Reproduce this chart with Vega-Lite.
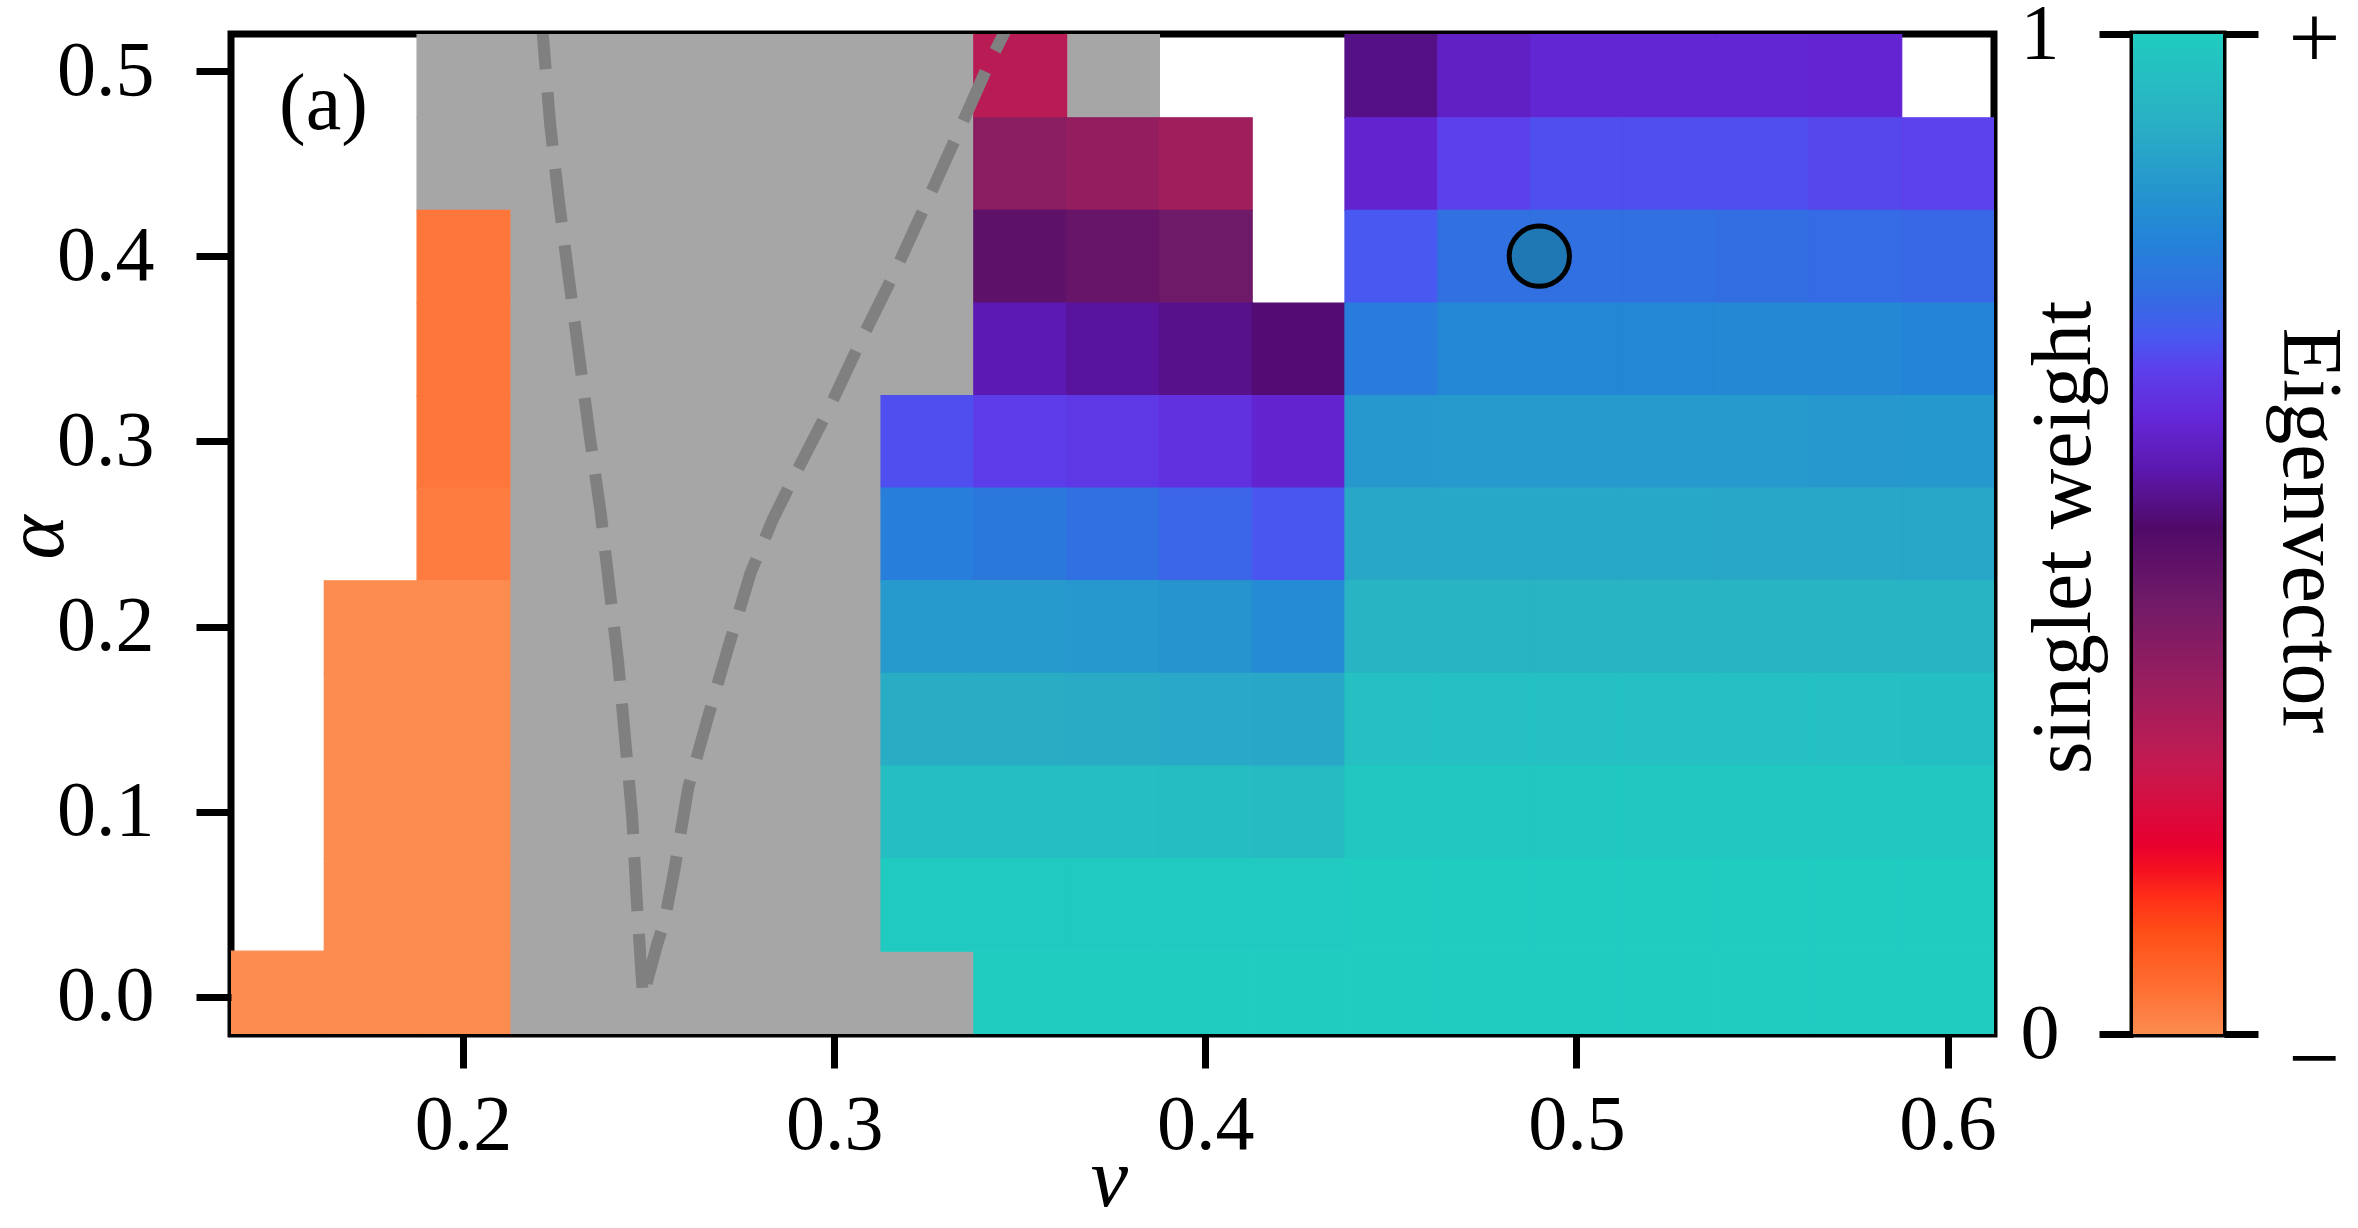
{
  "$schema": "https://vega.github.io/schema/vega-lite/v6.json",
  "background": "white",
  "padding": {"left": -9, "top": -11, "right": 0, "bottom": 0},
  "config": {
    "view": {"stroke": "black", "strokeWidth": 7},
    "font": "Liberation Serif",
    "axis": {
      "grid": false,
      "domain": false,
      "tickColor": "black",
      "tickWidth": 7,
      "labelFont": "Liberation Serif",
      "labelFontSize": 78,
      "labelColor": "black",
      "labelFlush": false,
      "labelOverlap": false,
      "titleFont": "Liberation Serif",
      "titleFontWeight": "normal",
      "titleColor": "black"
    }
  },
  "datasets": {
    "cells": [
      {"nu": 0.35, "alpha": 0.5, "w": 0.29},
      {"nu": 0.45, "alpha": 0.5, "w": 0.53},
      {"nu": 0.475, "alpha": 0.5, "w": 0.59},
      {"nu": 0.5, "alpha": 0.5, "w": 0.61},
      {"nu": 0.525, "alpha": 0.5, "w": 0.61},
      {"nu": 0.55, "alpha": 0.5, "w": 0.61},
      {"nu": 0.575, "alpha": 0.5, "w": 0.607},
      {"nu": 0.35, "alpha": 0.45, "w": 0.38},
      {"nu": 0.375, "alpha": 0.45, "w": 0.36},
      {"nu": 0.4, "alpha": 0.45, "w": 0.335},
      {"nu": 0.45, "alpha": 0.45, "w": 0.605},
      {"nu": 0.475, "alpha": 0.45, "w": 0.665},
      {"nu": 0.5, "alpha": 0.45, "w": 0.685},
      {"nu": 0.525, "alpha": 0.45, "w": 0.685},
      {"nu": 0.55, "alpha": 0.45, "w": 0.685},
      {"nu": 0.575, "alpha": 0.45, "w": 0.675},
      {"nu": 0.6, "alpha": 0.45, "w": 0.668},
      {"nu": 0.2, "alpha": 0.4, "w": 0.035},
      {"nu": 0.35, "alpha": 0.4, "w": 0.475},
      {"nu": 0.375, "alpha": 0.4, "w": 0.455},
      {"nu": 0.4, "alpha": 0.4, "w": 0.435},
      {"nu": 0.45, "alpha": 0.4, "w": 0.696},
      {"nu": 0.475, "alpha": 0.4, "w": 0.745},
      {"nu": 0.5, "alpha": 0.4, "w": 0.745},
      {"nu": 0.525, "alpha": 0.4, "w": 0.745},
      {"nu": 0.55, "alpha": 0.4, "w": 0.742},
      {"nu": 0.575, "alpha": 0.4, "w": 0.735},
      {"nu": 0.6, "alpha": 0.4, "w": 0.73},
      {"nu": 0.2, "alpha": 0.35, "w": 0.035},
      {"nu": 0.35, "alpha": 0.35, "w": 0.57},
      {"nu": 0.375, "alpha": 0.35, "w": 0.55},
      {"nu": 0.4, "alpha": 0.35, "w": 0.535},
      {"nu": 0.425, "alpha": 0.35, "w": 0.515},
      {"nu": 0.45, "alpha": 0.35, "w": 0.775},
      {"nu": 0.475, "alpha": 0.35, "w": 0.805},
      {"nu": 0.5, "alpha": 0.35, "w": 0.805},
      {"nu": 0.525, "alpha": 0.35, "w": 0.805},
      {"nu": 0.55, "alpha": 0.35, "w": 0.807},
      {"nu": 0.575, "alpha": 0.35, "w": 0.807},
      {"nu": 0.6, "alpha": 0.35, "w": 0.8},
      {"nu": 0.2, "alpha": 0.3, "w": 0.035},
      {"nu": 0.325, "alpha": 0.3, "w": 0.685},
      {"nu": 0.35, "alpha": 0.3, "w": 0.66},
      {"nu": 0.375, "alpha": 0.3, "w": 0.65},
      {"nu": 0.4, "alpha": 0.3, "w": 0.635},
      {"nu": 0.425, "alpha": 0.3, "w": 0.605},
      {"nu": 0.45, "alpha": 0.3, "w": 0.852},
      {"nu": 0.475, "alpha": 0.3, "w": 0.855},
      {"nu": 0.5, "alpha": 0.3, "w": 0.855},
      {"nu": 0.525, "alpha": 0.3, "w": 0.855},
      {"nu": 0.55, "alpha": 0.3, "w": 0.853},
      {"nu": 0.575, "alpha": 0.3, "w": 0.852},
      {"nu": 0.6, "alpha": 0.3, "w": 0.85},
      {"nu": 0.2, "alpha": 0.25, "w": 0.025},
      {"nu": 0.325, "alpha": 0.25, "w": 0.78},
      {"nu": 0.35, "alpha": 0.25, "w": 0.765},
      {"nu": 0.375, "alpha": 0.25, "w": 0.745},
      {"nu": 0.4, "alpha": 0.25, "w": 0.725},
      {"nu": 0.425, "alpha": 0.25, "w": 0.695},
      {"nu": 0.45, "alpha": 0.25, "w": 0.89},
      {"nu": 0.475, "alpha": 0.25, "w": 0.892},
      {"nu": 0.5, "alpha": 0.25, "w": 0.892},
      {"nu": 0.525, "alpha": 0.25, "w": 0.892},
      {"nu": 0.55, "alpha": 0.25, "w": 0.89},
      {"nu": 0.575, "alpha": 0.25, "w": 0.89},
      {"nu": 0.6, "alpha": 0.25, "w": 0.888},
      {"nu": 0.175, "alpha": 0.2, "w": 0.0},
      {"nu": 0.2, "alpha": 0.2, "w": 0.0},
      {"nu": 0.325, "alpha": 0.2, "w": 0.855},
      {"nu": 0.35, "alpha": 0.2, "w": 0.855},
      {"nu": 0.375, "alpha": 0.2, "w": 0.852},
      {"nu": 0.4, "alpha": 0.2, "w": 0.84},
      {"nu": 0.425, "alpha": 0.2, "w": 0.815},
      {"nu": 0.45, "alpha": 0.2, "w": 0.925},
      {"nu": 0.475, "alpha": 0.2, "w": 0.926},
      {"nu": 0.5, "alpha": 0.2, "w": 0.926},
      {"nu": 0.525, "alpha": 0.2, "w": 0.926},
      {"nu": 0.55, "alpha": 0.2, "w": 0.925},
      {"nu": 0.575, "alpha": 0.2, "w": 0.925},
      {"nu": 0.6, "alpha": 0.2, "w": 0.924},
      {"nu": 0.175, "alpha": 0.15, "w": 0.0},
      {"nu": 0.2, "alpha": 0.15, "w": 0.0},
      {"nu": 0.325, "alpha": 0.15, "w": 0.905},
      {"nu": 0.35, "alpha": 0.15, "w": 0.905},
      {"nu": 0.375, "alpha": 0.15, "w": 0.9},
      {"nu": 0.4, "alpha": 0.15, "w": 0.895},
      {"nu": 0.425, "alpha": 0.15, "w": 0.89},
      {"nu": 0.45, "alpha": 0.15, "w": 0.962},
      {"nu": 0.475, "alpha": 0.15, "w": 0.963},
      {"nu": 0.5, "alpha": 0.15, "w": 0.963},
      {"nu": 0.525, "alpha": 0.15, "w": 0.963},
      {"nu": 0.55, "alpha": 0.15, "w": 0.962},
      {"nu": 0.575, "alpha": 0.15, "w": 0.962},
      {"nu": 0.6, "alpha": 0.15, "w": 0.961},
      {"nu": 0.175, "alpha": 0.1, "w": 0.0},
      {"nu": 0.2, "alpha": 0.1, "w": 0.0},
      {"nu": 0.325, "alpha": 0.1, "w": 0.956},
      {"nu": 0.35, "alpha": 0.1, "w": 0.956},
      {"nu": 0.375, "alpha": 0.1, "w": 0.955},
      {"nu": 0.4, "alpha": 0.1, "w": 0.953},
      {"nu": 0.425, "alpha": 0.1, "w": 0.945},
      {"nu": 0.45, "alpha": 0.1, "w": 0.988},
      {"nu": 0.475, "alpha": 0.1, "w": 0.988},
      {"nu": 0.5, "alpha": 0.1, "w": 0.988},
      {"nu": 0.525, "alpha": 0.1, "w": 0.988},
      {"nu": 0.55, "alpha": 0.1, "w": 0.988},
      {"nu": 0.575, "alpha": 0.1, "w": 0.988},
      {"nu": 0.6, "alpha": 0.1, "w": 0.987},
      {"nu": 0.175, "alpha": 0.05, "w": 0.0},
      {"nu": 0.2, "alpha": 0.05, "w": 0.0},
      {"nu": 0.325, "alpha": 0.05, "w": 0.994},
      {"nu": 0.35, "alpha": 0.05, "w": 0.994},
      {"nu": 0.375, "alpha": 0.05, "w": 0.994},
      {"nu": 0.4, "alpha": 0.05, "w": 0.994},
      {"nu": 0.425, "alpha": 0.05, "w": 0.993},
      {"nu": 0.45, "alpha": 0.05, "w": 0.997},
      {"nu": 0.475, "alpha": 0.05, "w": 0.997},
      {"nu": 0.5, "alpha": 0.05, "w": 0.997},
      {"nu": 0.525, "alpha": 0.05, "w": 0.997},
      {"nu": 0.55, "alpha": 0.05, "w": 0.997},
      {"nu": 0.575, "alpha": 0.05, "w": 0.997},
      {"nu": 0.6, "alpha": 0.05, "w": 0.997},
      {"nu": 0.15, "alpha": 0.0, "w": 0.0},
      {"nu": 0.175, "alpha": 0.0, "w": 0.0},
      {"nu": 0.2, "alpha": 0.0, "w": 0.0},
      {"nu": 0.35, "alpha": 0.0, "w": 1.0},
      {"nu": 0.375, "alpha": 0.0, "w": 1.0},
      {"nu": 0.4, "alpha": 0.0, "w": 1.0},
      {"nu": 0.425, "alpha": 0.0, "w": 1.0},
      {"nu": 0.45, "alpha": 0.0, "w": 1.0},
      {"nu": 0.475, "alpha": 0.0, "w": 1.0},
      {"nu": 0.5, "alpha": 0.0, "w": 1.0},
      {"nu": 0.525, "alpha": 0.0, "w": 1.0},
      {"nu": 0.55, "alpha": 0.0, "w": 1.0},
      {"nu": 0.575, "alpha": 0.0, "w": 1.0},
      {"nu": 0.6, "alpha": 0.0, "w": 1.0}
    ],
    "gray": [
      {"nu": 0.2, "alpha": 0.5}, {"nu": 0.225, "alpha": 0.5}, {"nu": 0.25, "alpha": 0.5}, {"nu": 0.275, "alpha": 0.5}, {"nu": 0.3, "alpha": 0.5}, {"nu": 0.325, "alpha": 0.5}, {"nu": 0.375, "alpha": 0.5},
      {"nu": 0.2, "alpha": 0.45}, {"nu": 0.225, "alpha": 0.45}, {"nu": 0.25, "alpha": 0.45}, {"nu": 0.275, "alpha": 0.45}, {"nu": 0.3, "alpha": 0.45}, {"nu": 0.325, "alpha": 0.45},
      {"nu": 0.225, "alpha": 0.4}, {"nu": 0.25, "alpha": 0.4}, {"nu": 0.275, "alpha": 0.4}, {"nu": 0.3, "alpha": 0.4}, {"nu": 0.325, "alpha": 0.4},
      {"nu": 0.225, "alpha": 0.35}, {"nu": 0.25, "alpha": 0.35}, {"nu": 0.275, "alpha": 0.35}, {"nu": 0.3, "alpha": 0.35}, {"nu": 0.325, "alpha": 0.35},
      {"nu": 0.225, "alpha": 0.3}, {"nu": 0.25, "alpha": 0.3}, {"nu": 0.275, "alpha": 0.3}, {"nu": 0.3, "alpha": 0.3},
      {"nu": 0.225, "alpha": 0.25}, {"nu": 0.25, "alpha": 0.25}, {"nu": 0.275, "alpha": 0.25}, {"nu": 0.3, "alpha": 0.25},
      {"nu": 0.225, "alpha": 0.2}, {"nu": 0.25, "alpha": 0.2}, {"nu": 0.275, "alpha": 0.2}, {"nu": 0.3, "alpha": 0.2},
      {"nu": 0.225, "alpha": 0.15}, {"nu": 0.25, "alpha": 0.15}, {"nu": 0.275, "alpha": 0.15}, {"nu": 0.3, "alpha": 0.15},
      {"nu": 0.225, "alpha": 0.1}, {"nu": 0.25, "alpha": 0.1}, {"nu": 0.275, "alpha": 0.1}, {"nu": 0.3, "alpha": 0.1},
      {"nu": 0.225, "alpha": 0.05}, {"nu": 0.25, "alpha": 0.05}, {"nu": 0.275, "alpha": 0.05}, {"nu": 0.3, "alpha": 0.05},
      {"nu": 0.225, "alpha": 0.0}, {"nu": 0.25, "alpha": 0.0}, {"nu": 0.275, "alpha": 0.0}, {"nu": 0.3, "alpha": 0.0}, {"nu": 0.325, "alpha": 0.0}
    ],
    "boundary": [
      {"i": 0, "nu": 0.2211, "alpha": 0.53},
      {"i": 1, "nu": 0.2235, "alpha": 0.471},
      {"i": 2, "nu": 0.2259, "alpha": 0.429},
      {"i": 3, "nu": 0.2286, "alpha": 0.387},
      {"i": 4, "nu": 0.2313, "alpha": 0.346},
      {"i": 5, "nu": 0.234, "alpha": 0.305},
      {"i": 6, "nu": 0.237, "alpha": 0.263},
      {"i": 7, "nu": 0.2394, "alpha": 0.222},
      {"i": 8, "nu": 0.2418, "alpha": 0.181},
      {"i": 9, "nu": 0.2437, "alpha": 0.139},
      {"i": 10, "nu": 0.2456, "alpha": 0.097},
      {"i": 11, "nu": 0.2467, "alpha": 0.056},
      {"i": 12, "nu": 0.248, "alpha": 0.015},
      {"i": 13, "nu": 0.2485, "alpha": 0.0},
      {"i": 14, "nu": 0.2524, "alpha": 0.029},
      {"i": 15, "nu": 0.2543, "alpha": 0.041},
      {"i": 16, "nu": 0.257, "alpha": 0.069},
      {"i": 17, "nu": 0.2607, "alpha": 0.113},
      {"i": 18, "nu": 0.266, "alpha": 0.151},
      {"i": 19, "nu": 0.2718, "alpha": 0.191},
      {"i": 20, "nu": 0.2775, "alpha": 0.229},
      {"i": 21, "nu": 0.2835, "alpha": 0.258},
      {"i": 22, "nu": 0.2887, "alpha": 0.279},
      {"i": 23, "nu": 0.2982, "alpha": 0.316},
      {"i": 24, "nu": 0.3071, "alpha": 0.354},
      {"i": 25, "nu": 0.3165, "alpha": 0.392},
      {"i": 26, "nu": 0.3249, "alpha": 0.429},
      {"i": 27, "nu": 0.3337, "alpha": 0.468},
      {"i": 28, "nu": 0.3419, "alpha": 0.505},
      {"i": 29, "nu": 0.3482, "alpha": 0.53}
    ],
    "marker": [{"nu": 0.49, "alpha": 0.4}],
    "panel": [{"nu": 0.1624, "alpha": 0.4685, "label": "(a)"}],
    "bar": [{"lo": 0, "hi": 1}]
  },
  "spacing": 139,
  "bounds": "flush",
  "hconcat": [
    {
      "width": 1763,
      "height": 1000,
      "layer": [
        {
          "data": {"name": "gray"},
          "mark": {"type": "rect", "clip": true, "color": "#a6a6a6", "stroke": "#a6a6a6", "strokeWidth": 1.2, "binSpacing": 0},
          "encoding": {
            "x": {
              "field": "nu", "type": "quantitative",
              "bin": {"step": 0.025, "anchor": 0.0125, "extent": [0.1375, 0.6125], "nice": false},
              "scale": {"domain": [0.1375, 0.6125], "nice": false, "zero": false},
              "axis": {
                "orient": "bottom", "values": [0.2, 0.3, 0.4, 0.5, 0.6], "format": ".1f",
                "tickSize": 34, "labelPadding": 18,
                "title": "ν", "titleFontSize": 84, "titleFontStyle": "italic",
                "titleX": 878, "titleY": 171, "titleAlign": "center", "titleBaseline": "alphabetic", "titleAngle": 0
              }
            },
            "y": {
              "field": "alpha", "type": "quantitative",
              "bin": {"step": 0.05, "anchor": 0.025, "extent": [-0.025, 0.525], "nice": false},
              "scale": {"domain": [-0.02, 0.52], "nice": false, "zero": false},
              "axis": {
                "orient": "left", "values": [0, 0.1, 0.2, 0.3, 0.4, 0.5], "format": ".1f",
                "tickSize": 35, "labelPadding": 42,
                "title": "α", "titleFontSize": 84, "titleFontStyle": "italic",
                "titleX": -169, "titleY": 503, "titleAlign": "center", "titleBaseline": "alphabetic", "titleAngle": 270
              }
            }
          }
        },
        {
          "data": {"name": "cells"},
          "mark": {"type": "rect", "clip": true, "strokeWidth": 1.2, "binSpacing": 0},
          "encoding": {
            "x": {"field": "nu", "type": "quantitative", "bin": {"step": 0.025, "anchor": 0.0125, "extent": [0.1375, 0.6125], "nice": false}},
            "y": {"field": "alpha", "type": "quantitative", "bin": {"step": 0.05, "anchor": 0.025, "extent": [-0.025, 0.525], "nice": false}},
            "color": {
              "field": "w", "type": "quantitative", "legend": null,
              "scale": {
                "domain": [0, 0.05, 0.1, 0.135, 0.165, 0.19, 0.27, 0.336, 0.433, 0.506, 0.566, 0.616, 0.666, 0.696, 0.746, 0.796, 0.83, 0.913, 1],
                "range": ["#fc8c50", "#ff6c30", "#ff5018", "#ff3018", "#f41020", "#e80030", "#c41a50", "#a01e5c", "#701a68", "#500a68", "#5c18b0", "#6428d8", "#5c40ec", "#4858f0", "#3070e0", "#2484d8", "#2490d0", "#2ab0c4", "#20ccc0"],
                "interpolate": "rgb", "nice": false, "zero": false
              }
            },
            "stroke": {
              "field": "w", "type": "quantitative", "legend": null,
              "scale": {
                "domain": [0, 0.05, 0.1, 0.135, 0.165, 0.19, 0.27, 0.336, 0.433, 0.506, 0.566, 0.616, 0.666, 0.696, 0.746, 0.796, 0.83, 0.913, 1],
                "range": ["#fc8c50", "#ff6c30", "#ff5018", "#ff3018", "#f41020", "#e80030", "#c41a50", "#a01e5c", "#701a68", "#500a68", "#5c18b0", "#6428d8", "#5c40ec", "#4858f0", "#3070e0", "#2484d8", "#2490d0", "#2ab0c4", "#20ccc0"],
                "interpolate": "rgb", "nice": false, "zero": false
              }
            }
          }
        },
        {
          "data": {"name": "boundary"},
          "mark": {"type": "line", "clip": true, "color": "#808080", "strokeWidth": 12, "strokeDash": [54, 23], "strokeCap": "butt", "strokeJoin": "miter"},
          "encoding": {
            "x": {"field": "nu", "type": "quantitative"},
            "y": {"field": "alpha", "type": "quantitative"},
            "order": {"field": "i", "type": "quantitative"}
          }
        },
        {
          "data": {"name": "marker"},
          "mark": {"type": "point", "shape": "circle", "filled": true, "fill": "#1f77b4", "stroke": "black", "strokeWidth": 5, "size": 3630, "opacity": 1, "fillOpacity": 1, "strokeOpacity": 1},
          "encoding": {
            "x": {"field": "nu", "type": "quantitative"},
            "y": {"field": "alpha", "type": "quantitative"}
          }
        },
        {
          "data": {"name": "panel"},
          "mark": {"type": "text", "font": "Liberation Serif", "fontSize": 80, "align": "center", "baseline": "alphabetic", "color": "black"},
          "encoding": {
            "x": {"field": "nu", "type": "quantitative"},
            "y": {"field": "alpha", "type": "quantitative"},
            "text": {"field": "label"}
          }
        }
      ]
    },
    {
      "spacing": 0,
      "bounds": "flush",
      "hconcat": [
        {
          "width": 90,
          "height": 1000,
          "data": {"name": "bar"},
          "mark": {
            "type": "rect",
            "fill": {
              "gradient": "linear", "x1": 0, "y1": 1, "x2": 0, "y2": 0,
              "stops": [
                {"offset": 0, "color": "#fc8c50"},
                {"offset": 0.05, "color": "#ff6c30"},
                {"offset": 0.1, "color": "#ff5018"},
                {"offset": 0.135, "color": "#ff3018"},
                {"offset": 0.165, "color": "#f41020"},
                {"offset": 0.19, "color": "#e80030"},
                {"offset": 0.27, "color": "#c41a50"},
                {"offset": 0.336, "color": "#a01e5c"},
                {"offset": 0.433, "color": "#701a68"},
                {"offset": 0.506, "color": "#500a68"},
                {"offset": 0.566, "color": "#5c18b0"},
                {"offset": 0.616, "color": "#6428d8"},
                {"offset": 0.666, "color": "#5c40ec"},
                {"offset": 0.696, "color": "#4858f0"},
                {"offset": 0.746, "color": "#3070e0"},
                {"offset": 0.796, "color": "#2484d8"},
                {"offset": 0.83, "color": "#2490d0"},
                {"offset": 0.913, "color": "#2ab0c4"},
                {"offset": 1, "color": "#20ccc0"}
              ]
            }
          },
          "encoding": {
            "y": {
              "field": "lo", "type": "quantitative",
              "scale": {"domain": [0, 1], "nice": false, "zero": false},
              "axis": {
                "orient": "left", "values": [0, 1], "format": "d",
                "tickSize": 34, "labelPadding": 40,
                "title": "singlet weight", "titleFontSize": 84,
                "titleX": -44, "titleY": 503, "titleAlign": "center", "titleBaseline": "alphabetic", "titleAngle": 270
              }
            },
            "y2": {"field": "hi"}
          }
        },
        {
          "width": 1,
          "height": 1000,
          "view": {"stroke": "transparent"},
          "data": {"name": "bar"},
          "mark": {"type": "rect", "opacity": 0},
          "encoding": {
            "y": {
              "field": "lo", "type": "quantitative",
              "scale": {"domain": [0, 1], "nice": false, "zero": false},
              "axis": {
                "orient": "right", "values": [0, 1],
                "labelExpr": "datum.value == 1 ? '+' : '−'",
                "labelFontSize": 92,
                "labelOffset": {"condition": {"test": "datum.value == 0", "value": 26}, "value": 5},
                "tickSize": 34, "labelPadding": 30,
                "title": "Eigenvector", "titleFontSize": 84,
                "titleX": 59, "titleY": 496, "titleAlign": "center", "titleBaseline": "alphabetic", "titleAngle": 90
              }
            },
            "y2": {"field": "hi"}
          }
        }
      ]
    }
  ]
}
